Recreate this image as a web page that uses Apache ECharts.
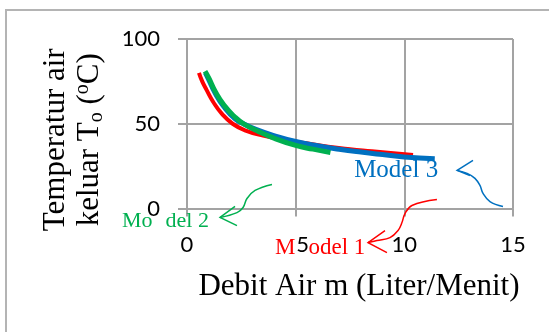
<!DOCTYPE html>
<html><head><meta charset="utf-8">
<script src="https://cdn.jsdelivr.net/npm/echarts@6/dist/echarts.min.js"></script>
<style>html,body{margin:0;padding:0;background:#fff}#c{width:549px;height:332px}</style>
</head><body><div id="c"></div>
<script>
// ---- data ----
const xTicks = [0, 5, 10, 15];
const yTicks = [0, 50, 100];
const xTitle = 'Debit Air m (Liter/Menit)';
const yTitleLine1 = 'Temperatur air';
const yTitleLine2 = ['keluar T', 'o', ' (', 'o', 'C)'];

const model1 = [[0.55,80],[0.7,75],[0.9,70],[1.2,63],[1.6,56],[2.1,50],[2.7,46],[3.5,43],[4.5,40.5],[5.5,38.5],[6.5,36.5],[7.5,35],[8.5,33.8],[9.5,32.6],[10.4,31.5]];
const model3 = [[0.85,80],[1.0,76],[1.3,68],[1.7,60],[2.2,53],[2.6,50],[3.2,46.5],[4,43],[5,39.5],[6,37],[7,35],[8,33.3],[9,31.8],[10,30.4],[11.4,29.3]];
const model2 = [[0.83,81],[1.0,77],[1.3,69],[1.7,61],[2.2,54],[2.6,50],[3.2,46],[4,41.5],[5,37.2],[5.8,35],[6.6,33]];

// annotations (data coordinates)
const label1 = {text: ['M', 'odel 1'], at: [4.05, -23.4]};
const label2 = {text: ['Mo', 'del 2'], at: [-2.99, -7.7]};
const label3 = {text: ['Model 3'], at: [7.69, 22.5]};
const arrow1 = [[11.50,5.3],[10.35,1.8],[10.03,-3.0],[9.89,-8.3],[9.71,-13.0],[9.34,-17.2],[8.74,-18.9],[8.33,-20.1]];
const head1 = [[9.11,-13.0],[8.33,-20.1],[9.20,-26.0]];
const arrow2 = [[3.91,14.2],[3.13,10.65],[2.76,5.9],[2.58,0.6],[2.30,-2.4],[1.52,-5.3]];
const head2 = [[2.21,1.2],[1.52,-5.3],[2.30,-10.1]];
const arrow3 = [[14.54,1.2],[13.94,4.1],[13.62,8.9],[13.48,13.6],[13.25,17.8],[12.89,20.7],[12.43,22.5]];
const head3 = [[13.16,28.4],[12.43,22.5],[13.02,19.5]];

const RED = '#ff0000', GREEN = '#00b050', BLUE = '#0070c0';
const SERIF = '"Times New Roman","Liberation Serif",serif';
const SANS = 'Lato, "Open Sans", sans-serif';
const GRIDC = '#a3a3a3';

const chart = echarts.init(document.getElementById('c'), null, {renderer: 'canvas'});
const t = {fontFamily: SERIF, fontSize: 31, lineHeight: 34, color: '#000'};
chart.setOption({
  animation: false,
  backgroundColor: '#fff',
  grid: {left: 187, top: 39, right: 36, bottom: 123.5, containLabel: false},
  xAxis: {
    type: 'value', min: xTicks[0], max: xTicks[xTicks.length-1], interval: xTicks[1]-xTicks[0],
    axisLine: {show: true, lineStyle: {color: GRIDC, width: 2}},
    axisTick: {show: true, length: 8, lineStyle: {color: GRIDC, width: 2}},
    splitLine: {show: true, lineStyle: {color: GRIDC, width: 2}},
    axisLabel: {margin: 25, fontFamily: SANS, fontSize: 22, color: '#000', hideOverlap: false,
      formatter: function (v) { return v === 5 ? '{s|' + v + '}' : String(v); },
      rich: {s: {fontFamily: SANS, fontSize: 22, color: '#000', padding: [0, 0, 0, 14]}}},
    name: xTitle, nameLocation: 'middle', nameGap: 63,
    nameTextStyle: {fontFamily: SERIF, fontSize: 31, color: '#000', padding: [0,0,0,18]}
  },
  yAxis: {
    type: 'value', min: yTicks[0], max: yTicks[yTicks.length-1], interval: yTicks[1]-yTicks[0],
    axisLine: {show: true, lineStyle: {color: GRIDC, width: 2}},
    axisTick: {show: true, length: 9, lineStyle: {color: GRIDC, width: 2}},
    splitLine: {show: true, lineStyle: {color: GRIDC, width: 2}},
    axisLabel: {margin: 27, fontFamily: SANS, fontSize: 22, color: '#000'},
    name: '{t|' + yTitleLine1 + '}\n{t|' + yTitleLine2[0] + '}{sub|' + yTitleLine2[1] + '}{t|' + yTitleLine2[2] + '}{sup|' + yTitleLine2[3] + '}{t|' + yTitleLine2[4] + '}',
    nameLocation: 'middle', nameRotate: 90, nameGap: 80,
    nameTextStyle: {
      fontFamily: SERIF, fontSize: 31, lineHeight: 34, color: '#000', padding: [0,32,0,0],
      rich: {
        t: t,
        sub: {fontFamily: SERIF, fontSize: 20, lineHeight: 34, color: '#000', verticalAlign: 'bottom'},
        sup: {fontFamily: SERIF, fontSize: 20, lineHeight: 34, color: '#000', verticalAlign: 'top'}
      }
    }
  },
  series: [
    {name: 'Model 1', type: 'line', data: model1, smooth: true, showSymbol: false, symbol: 'none', lineStyle: {color: RED, width: 4}, itemStyle: {color: RED}},
    {name: 'Model 3', type: 'line', data: model3, smooth: true, showSymbol: false, symbol: 'none', lineStyle: {color: BLUE, width: 5}, itemStyle: {color: BLUE}},
    {name: 'Model 2', type: 'line', data: model2, smooth: true, showSymbol: false, symbol: 'none', lineStyle: {color: GREEN, width: 5}, itemStyle: {color: GREEN}}
  ]
});

function px(p) { return chart.convertToPixel({gridIndex: 0}, p); }
function pts(a) { return a.map(px); }
function labelEl(l, color, size, gap) {
  const p = px(l.at);
  let txt, rich = {a: {fontFamily: SERIF, fontSize: size, fill: color}, g: {width: gap, fontSize: size}};
  if (l.text.length === 2) txt = '{a|' + l.text[0] + '}{g| }{a|' + l.text[1] + '}';
  else txt = '{a|' + l.text[0] + '}';
  return {type: 'text', x: p[0], y: p[1], z: 1,
    style: {text: txt, rich: rich, fontFamily: SERIF, fontSize: size, fill: color, align: 'left', verticalAlign: 'middle'}};
}
function arrowEls(path, head, color) {
  return [
    {type: 'polyline', z: 100, shape: {points: pts(path), smooth: 0.4}, style: {stroke: color, lineWidth: 1.5, fill: null}},
    {type: 'polyline', z: 100, shape: {points: pts(head)}, style: {stroke: color, lineWidth: 1.5, fill: null}}
  ];
}
chart.setOption({
  graphic: [
    {type: 'rect', z: 0, shape: {x: 6, y: 10, width: 600, height: 400}, style: {stroke: '#b4b4b4', lineWidth: 2, fill: null}},
    labelEl(label1, RED, 23, 13),
    labelEl(label2, GREEN, 22, 13),
    labelEl(label3, BLUE, 25, 0),
    ...arrowEls(arrow1, head1, RED),
    ...arrowEls(arrow2, head2, GREEN),
    ...arrowEls(arrow3, head3, BLUE)
  ]
});
</script>
</body></html>
